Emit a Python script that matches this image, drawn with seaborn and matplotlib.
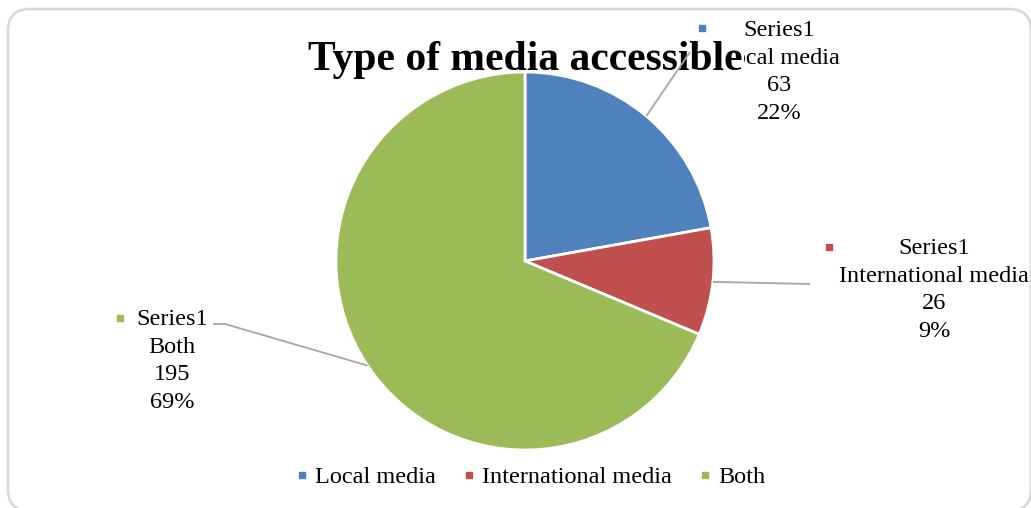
import numpy as np
import matplotlib
matplotlib.use("Agg")
import matplotlib.pyplot as plt
from matplotlib.patches import FancyBboxPatch
from matplotlib.lines import Line2D
import seaborn as sns

# Survey data: type of media the respondents can access
categories = ["Local media", "International media", "Both"]
counts = [63, 26, 195]
percent_labels = ["22%", "9%", "69%"]
series_name = "Series1"
title = "Type of media accessible"
colors = ["#4F81BD", "#C0504D", "#9BBB59"]

sns.set_theme(style="white")
plt.rcParams["font.family"] = ["Liberation Serif", "DejaVu Serif"]
plt.rcParams["text.color"] = "black"

W, H = 1031, 508
fig = plt.figure(figsize=(W / 100, H / 100), dpi=100)
ax = fig.add_axes([0, 0, 1, 1])

# Pie in a pixel-like coordinate system (y measured from the bottom)
cx, cy, r = 525, H - 261, 189
wedges, _ = ax.pie(counts, colors=colors, startangle=90, counterclock=False,
                   center=(cx, cy), radius=r,
                   wedgeprops=dict(edgecolor="white", linewidth=2))
for w in wedges:
    w.set_zorder(4)
ax.set_xlim(0, W)
ax.set_ylim(0, H)
ax.set_aspect("auto")
ax.axis("off")

# Rounded chart-area border
frame = FancyBboxPatch((8, -3), 1023, 502,
                       boxstyle="round,pad=0,rounding_size=22",
                       facecolor="none", edgecolor="#d9d9d9", linewidth=1.9,
                       clip_on=False, zorder=0)
ax.add_patch(frame)

# Data labels: marker position, text centre, leader line elbow points
label_specs = [
    dict(marker=(702, 28), text=(779, 72), path=[(690, 52)]),
    dict(marker=(829, 247), text=(934, 290), path=[(810, 284)]),
    dict(marker=(120, 318), text=(172, 361), path=[(225, 324), (213, 324)]),
]

fs = 17.5
total = float(sum(counts))
cum = 0.0
for i, spec in enumerate(label_specs):
    frac_mid = (cum + counts[i] / 2.0) / total
    cum += counts[i]
    ang = np.deg2rad(90 - 360 * frac_mid)
    sx, sy = cx + r * np.cos(ang), cy + r * np.sin(ang)
    xs = [sx] + [p[0] for p in spec["path"]]
    ys = [sy] + [H - p[1] for p in spec["path"]]
    ax.plot(xs, ys, color="#a6a6a6", linewidth=1.3, zorder=6,
            solid_capstyle="butt")
    mx, my = spec["marker"]
    ax.plot([mx], [H - my], marker="s", markersize=4.5, color=colors[i],
            linestyle="none", zorder=2)
    tx, ty = spec["text"]
    txt = f"{series_name}\n{categories[i]}\n{counts[i]}\n{percent_labels[i]}"
    ax.text(tx, H - ty, txt, ha="center", va="center", multialignment="center",
            fontsize=fs, color="black", linespacing=1.4, zorder=2)

# Title with an opaque background, drawn over the top label but under the pie
ax.text(525, H - 70, title, ha="center", va="baseline", fontsize=30,
        fontweight="bold", color="black", zorder=3,
        bbox=dict(boxstyle="square,pad=0.05", facecolor="white",
                  edgecolor="none"))

handles = [Line2D([], [], marker="s", linestyle="none", color=c, markersize=4.5)
           for c in colors]
leg = ax.legend(handles, categories, loc="center", ncol=3, frameon=False,
                bbox_to_anchor=(530 / W, (H - 477) / H),
                bbox_transform=fig.transFigure,
                prop={"family": ["Liberation Serif"], "size": fs},
                handlelength=0.6, handletextpad=0.25, columnspacing=1.05)
for t in leg.get_texts():
    t.set_color("black")

fig.savefig("out.png", dpi=100, facecolor="white")
